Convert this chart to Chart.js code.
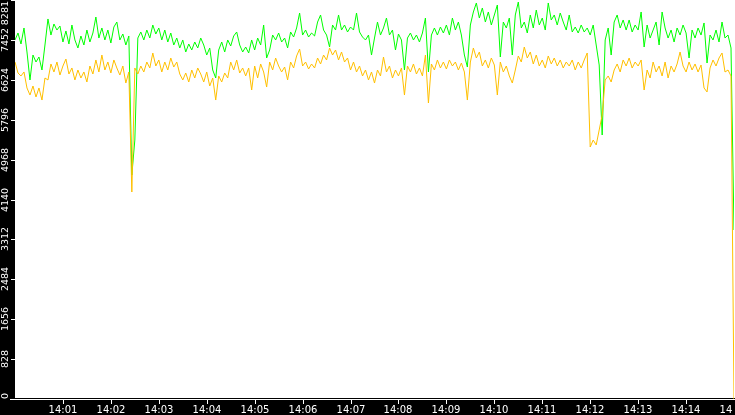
<!DOCTYPE html>
<html>
<head>
<meta charset="utf-8">
<title>Rate monitor 14:00 - 14:15</title>
<script src="https://cdn.jsdelivr.net/npm/chart.js@4.4.1/dist/chart.umd.min.js"></script>
<style>
  html, body { margin: 0; padding: 0; background: #000; }
  #wrap { width: 735px; height: 415px; }
</style>
</head>
<body>
<div id="wrap"><canvas id="rateChart" width="735" height="415"></canvas></div>
<script>
// one sample every 3.75 s, starting at 14:00:00
const SAMPLE_SECONDS = 3.75;

const yTicks = [0, 828, 1656, 2484, 3312, 4140, 4968, 5796, 6624, 7452, 8281];
const xTickSeconds = [60, 120, 180, 240, 300, 360, 420, 480, 540, 600, 660, 720, 780, 840, 900];
const xTickLabels = ['14:01', '14:02', '14:03', '14:04', '14:05', '14:06', '14:07', '14:08',
  '14:09', '14:10', '14:11', '14:12', '14:13', '14:14', '14:15'];

const greenSeries = [
  7451, 7596, 7368, 7700, 7202, 6621, 7139, 6994, 7098, 6828,
  7347, 7887, 7554, 7783, 7658, 7741, 7409, 7638, 7368, 7762,
  7451, 7285, 7534, 7347, 7658, 7409, 7596, 7928, 7492, 7700,
  7451, 7658, 7388, 7720, 7824, 7451, 7575, 7347, 7534, 4649,
  5375, 7492, 7617, 7451, 7658, 7492, 7762, 7575, 7700, 7451,
  7658, 7409, 7596, 7347, 7492, 7285, 7451, 7202, 7368, 7243,
  7409, 7285, 7492, 7347, 7139, 7285, 6828, 6662, 7243, 7409,
  7202, 7451, 7326, 7534, 7617, 7347, 7202, 7305, 7181, 7451,
  7243, 7492, 7347, 7762, 7077, 7243, 7554, 7451, 7596, 7409,
  7492, 7285, 7617, 7513, 7700, 8011, 7554, 7658, 7513, 7596,
  7534, 7824, 7970, 7658, 7554, 7305, 7762, 7658, 7970, 7658,
  7762, 7617, 7720, 7658, 8011, 7617, 7513, 7451, 7554, 7139,
  7492, 7824, 7554, 7700, 7907, 7554, 7658, 7243, 7575, 7451,
  6828, 7492, 7596, 7451, 7554, 7409, 7596, 7907, 6787, 7554,
  7700, 7554, 7720, 7596, 7762, 7554, 7907, 7658, 7824, 7554,
  7139, 6890, 7762, 8032, 8219, 7907, 8115, 7824, 8032, 7762,
  7970, 8177, 7098, 7824, 7700, 7907, 7139, 7970, 8239, 7700,
  7824, 7596, 7970, 7700, 8073, 7762, 7907, 7658, 8219, 7866,
  7970, 7762, 8011, 7824, 7658, 7970, 7617, 7720, 7596, 7762,
  7617, 7700, 7554, 7762, 7347, 6932, 5479, 7451, 7700, 7139,
  7824, 7970, 7700, 7866, 7658, 7866, 7617, 7762, 7658, 8032,
  7305, 7762, 7492, 7658, 7824, 7347, 8032, 7700, 7492, 7658,
  7409, 7700, 7554, 7762, 7596, 7077, 7658, 7492, 7700, 7554,
  7804, 6973, 7554, 7451, 7658, 7409, 7824, 7492, 7554, 7285,
  3507
];

const amberSeries = [
  6994, 6766, 6704, 6787, 6455, 6309, 6496, 6268, 6455, 6205,
  6662, 6621, 6953, 6787, 6994, 6724, 6911, 7056, 6745, 6870,
  6621, 6828, 6662, 6787, 6579, 6911, 6745, 7036, 6787, 7139,
  6828, 6994, 6766, 7036, 6870, 6724, 6911, 6558, 6787, 4296,
  6870, 6745, 6911, 6787, 6994, 6870, 7181, 6911, 7036, 6787,
  6994, 6828, 7077, 6890, 6994, 6745, 6621, 6766, 6579, 6828,
  6662, 6870, 6745, 6579, 6787, 6496, 6662, 6205, 6704, 6579,
  6766, 6662, 6994, 6828, 7036, 6766, 6870, 6704, 6870, 6413,
  6911, 6662, 6953, 6787, 6475, 6994, 6828, 7077, 6911, 6787,
  6890, 6621, 6994, 6870, 7119, 7264, 6911, 6994, 6849, 6953,
  6870, 7077, 6953, 7139, 7036, 7285, 7139, 7243, 7036, 7202,
  6994, 7077, 6828, 6994, 6787, 6911, 6704, 6828, 6621, 6787,
  6558, 6828, 6704, 7098, 6787, 6911, 6662, 6828, 6704, 6870,
  6309, 6911, 6787, 6953, 6745, 6870, 6704, 7139, 6143, 6953,
  6828, 7036, 6870, 6994, 6849, 7036, 6911, 6994, 6828, 6973,
  6787, 6205, 6994, 7285, 7077, 7202, 6911, 7036, 6870, 7077,
  6932, 6309, 6994, 6787, 6911, 6704, 6558, 6828, 7119, 6994,
  7305, 7077, 7202, 6953, 7139, 6911, 7036, 6870, 7119, 6953,
  7077, 6911, 7036, 6870, 6994, 6911, 7036, 6828, 6994, 6870,
  7036, 7181, 5230, 5375, 5272, 5583, 5894, 6621, 6704, 6579,
  6828, 6953, 6787, 7036, 6911, 7077, 6870, 6994, 6911, 7036,
  6413, 6828, 6662, 6994, 6787, 6911, 6704, 6994, 6662, 6911,
  6787, 6953, 7202, 6911, 6787, 6994, 6828, 6953, 6787, 6932,
  6455, 6372, 6870, 7036, 6911, 7077, 7181, 6787, 6828, 6704,
  0
];

const sampleTimes = greenSeries.map((_, i) => i * SAMPLE_SECONDS);

// black frame, white plot area, hand-drawn axes like the original monitor
const monitorFrame = {
  id: 'monitorFrame',
  beforeDraw(chart) {
    const { ctx, chartArea: area } = chart;
    ctx.save();
    ctx.fillStyle = '#000';
    ctx.fillRect(0, 0, chart.width, chart.height);
    ctx.fillStyle = '#fff';
    ctx.fillRect(area.left, area.top, chart.width - area.left, area.bottom - area.top - 1);
    ctx.restore();
  },
  afterDraw(chart) {
    const { ctx, chartArea: area } = chart;
    const xScale = chart.scales.x;
    const yScale = chart.scales.y;
    ctx.save();
    ctx.fillStyle = '#fff';

    // baseline
    ctx.fillRect(10, area.bottom, chart.width - 10, 1);

    // y ticks, labels turned on their side
    ctx.font = '9.5px "DejaVu Sans"';
    ctx.textAlign = 'center';
    ctx.textBaseline = 'middle';
    yTicks.forEach(v => {
      const py = Math.round(yScale.getPixelForValue(v));
      if (v !== 0) ctx.fillRect(11, py, 4, 1);
      const label = String(v);
      const half = ctx.measureText(label).width / 2;
      const cy = Math.min(Math.max(py, half + 1), area.bottom - half);
      ctx.save();
      ctx.translate(6, cy);
      ctx.rotate(-Math.PI / 2);
      ctx.fillText(label, 0, 0);
      ctx.restore();
    });

    // x ticks; the last label runs off the right edge
    ctx.beginPath();
    ctx.rect(0, area.bottom, 732, chart.height - area.bottom);
    ctx.clip();
    ctx.font = '10px "DejaVu Sans"';
    ctx.textBaseline = 'alphabetic';
    xTickSeconds.forEach((s, i) => {
      const px = Math.round(xScale.getPixelForValue(s));
      ctx.fillRect(px, area.bottom + 1, 1, 4);
      ctx.fillText(xTickLabels[i], px, 413);
    });
    ctx.restore();
  }
};

const ctx = document.getElementById('rateChart').getContext('2d');
const rateChart = new Chart(ctx, {
  type: 'line',
  data: {
    labels: sampleTimes,
    datasets: [
      {
        label: 'amber',
        data: amberSeries,
        borderColor: '#ffc000',
        borderWidth: 1
      },
      {
        label: 'green',
        data: greenSeries,
        borderColor: '#00ff00',
        borderWidth: 1
      }
    ]
  },
  options: {
    responsive: false,
    devicePixelRatio: 1,
    animation: false,
    events: [],
    layout: { padding: { left: 15, right: 1, top: 0, bottom: 16 } },
    elements: {
      point: { radius: 0 },
      line: { tension: 0 }
    },
    scales: {
      x: { type: 'linear', min: 0, max: 900, display: false },
      y: { type: 'linear', min: 0, max: 8281, display: false }
    },
    plugins: {
      legend: { display: false },
      tooltip: { enabled: false }
    }
  },
  plugins: [monitorFrame]
});
</script>
</body>
</html>
